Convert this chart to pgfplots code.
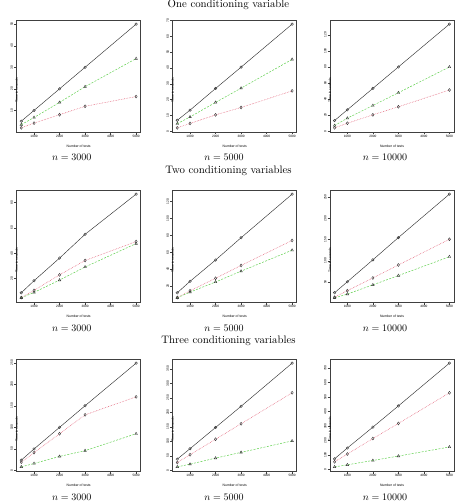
\documentclass[border=0pt]{standalone}
\usepackage{pgfplots}
\pgfplotsset{compat=1.18}
\usepackage{fontspec}
\setsansfont{Liberation Sans}

\definecolor{rred}{HTML}{DF536B}
\definecolor{rgreen}{HTML}{61D04F}

\pgfplotsset{
  panel/.style={
    scale only axis, width=124pt, height=112pt,
    anchor=north west,
    xmin=320, xmax=5180,
    enlarge y limits=0.04,
    xtick={1000,2000,3000,4000,5000},
    axis line style={draw=black!75, line width=0.6pt},
    tick style={draw=black!75, line width=0.4pt},
    major tick length=2.5pt,
    tick align=outside,
    xtick pos=left, ytick pos=left,
    tick label style={font=\sffamily\fontsize{3.2}{3.6}\selectfont, inner sep=1pt},
    /pgf/number format/assume math mode=true,
    /pgf/number format/set thousands separator={},
    yticklabel style={rotate=90, anchor=south},
    xticklabel style={anchor=north},
    xlabel={Number of tests}, ylabel={Time in seconds},
    label style={font=\sffamily\fontsize{3.4}{4}\selectfont},
    x label style={at={(axis description cs:0.5,0)}, anchor=center, yshift=-14.5pt},
    y label style={at={(axis description cs:0,0.5)}, anchor=center, xshift=-14pt},
  },
  sblack/.style={black!80, line width=0.45pt, mark=o, mark size=1.3pt,
    mark options={solid, line width=0.4pt}},
  sgreen/.style={rgreen, line width=0.5pt, dash pattern=on 2pt off 1.4pt,
    mark=triangle, mark size=1.5pt, mark options={solid, black!80, line width=0.4pt}},
  sred/.style={rred, line width=0.5pt, dash pattern=on 0.6pt off 1pt,
    mark=diamond, mark size=1.5pt, mark options={solid, black!80, line width=0.4pt}},
}

\newcommand{\titlefont}{\fontsize{10.8}{12}\selectfont}
\newcommand{\capfont}{\fontsize{10}{12}\selectfont}

\begin{document}
\begin{tikzpicture}
\useasboundingbox (0,0) rectangle (457pt,-502pt);

% ---------- One conditioning variable ----------
\node[anchor=base] at (228.5pt,-8pt) {\titlefont One conditioning variable};

\begin{axis}[panel, at={(16.7pt,-20pt)}, ytick={10,20,30,40,50}]
\addplot[sred] coordinates {(500,1.9)(1000,4.1)(2000,8)(3000,11.9)(5000,16.4)};
\addplot[sgreen] coordinates {(500,3.4)(1000,6.7)(2000,13.7)(3000,21)(5000,34)};
\addplot[sblack] coordinates {(500,5)(1000,10)(2000,20)(3000,30)(5000,50)};
\end{axis}

\begin{axis}[panel, at={(172.7pt,-20pt)}, ytick={0,10,20,30,40,50,60,70}]
\addplot[sred] coordinates {(500,2.1)(1000,4.9)(2000,10.3)(3000,15)(5000,25.5)};
\addplot[sgreen] coordinates {(500,4.7)(1000,9)(2000,18.2)(3000,27.2)(5000,45.4)};
\addplot[sblack] coordinates {(500,6.9)(1000,13.3)(2000,27)(3000,40.5)(5000,67.7)};
\end{axis}

\begin{axis}[panel, at={(330pt,-20pt)}, ytick={0,20,40,60,80,100,120}]
\addplot[sred] coordinates {(500,4.2)(1000,10)(2000,20.4)(3000,30.4)(5000,51.3)};
\addplot[sgreen] coordinates {(500,7.1)(1000,16.2)(2000,32)(3000,47.9)(5000,80)};
\addplot[sblack] coordinates {(500,13.3)(1000,26.7)(2000,53.3)(3000,80)(5000,133.3)};
\end{axis}

\node[anchor=base] at (71.7pt,-161pt) {\capfont $n = 3000$};
\node[anchor=base] at (224pt,-161pt) {\capfont $n = 5000$};
\node[anchor=base] at (385pt,-161pt) {\capfont $n = 10000$};

% ---------- Two conditioning variables ----------
\node[anchor=base] at (228.5pt,-174pt) {\titlefont Two conditioning variables};

\begin{axis}[panel, at={(16.7pt,-190pt)}, ytick={20,40,60,80}]
\addplot[sred] coordinates {(500,5.1)(1000,10.8)(2000,23)(3000,34.3)(5000,49.2)};
\addplot[sgreen] coordinates {(500,4.9)(1000,9.2)(2000,18.9)(3000,29.2)(5000,47.6)};
\addplot[sblack] coordinates {(500,8.9)(1000,18.4)(2000,36.2)(3000,54.9)(5000,86.5)};
\end{axis}

\begin{axis}[panel, at={(172.7pt,-190pt)}, ytick={20,40,60,80,100,120}]
\addplot[sred] coordinates {(500,6.4)(1000,14.4)(2000,29.2)(3000,44.4)(5000,74)};
\addplot[sgreen] coordinates {(500,6)(1000,12.8)(2000,24.8)(3000,37.6)(5000,62.4)};
\addplot[sblack] coordinates {(500,12)(1000,25.6)(2000,50.8)(3000,77.2)(5000,128.8)};
\end{axis}

\begin{axis}[panel, at={(330pt,-190pt)}, ytick={50,100,150,200,250}]
\addplot[sred] coordinates {(500,14.5)(1000,29.8)(2000,59.7)(3000,90.3)(5000,150.8)};
\addplot[sgreen] coordinates {(500,12.9)(1000,21.8)(2000,43.5)(3000,65.3)(5000,109.7)};
\addplot[sblack] coordinates {(500,25)(1000,50.8)(2000,102.4)(3000,154.8)(5000,257)};
\end{axis}

\node[anchor=base] at (71.7pt,-331pt) {\capfont $n = 3000$};
\node[anchor=base] at (224pt,-331pt) {\capfont $n = 5000$};
\node[anchor=base] at (385pt,-331pt) {\capfont $n = 10000$};

% ---------- Three conditioning variables ----------
\node[anchor=base] at (228.5pt,-343pt) {\titlefont Three conditioning variables};

\begin{axis}[panel, at={(16.7pt,-359pt)}, ytick={0,50,100,150,200,250}]
\addplot[sred] coordinates {(500,18.9)(1000,40.9)(2000,84.9)(3000,128.9)(5000,170.6)};
\addplot[sgreen] coordinates {(500,7.9)(1000,15.7)(2000,32.2)(3000,45.6)(5000,84.9)};
\addplot[sblack] coordinates {(500,23.6)(1000,49.5)(2000,99.8)(3000,150)(5000,249)};
\end{axis}

\begin{axis}[panel, at={(172.7pt,-359pt)}, ytick={0,50,100,150,200,250,300,350}]
\addplot[sred] coordinates {(500,26.7)(1000,53.5)(2000,107)(3000,160.5)(5000,267.4)};
\addplot[sgreen] coordinates {(500,11.6)(1000,20.9)(2000,41.9)(3000,61.6)(5000,101.2)};
\addplot[sblack] coordinates {(500,38.4)(1000,74.4)(2000,147.7)(3000,220.9)(5000,369.8)};
\end{axis}

\begin{axis}[panel, at={(330pt,-359pt)}, ytick={0,100,200,300,400,500,600,700}]
\addplot[sred] coordinates {(500,53.5)(1000,107)(2000,214)(3000,318.6)(5000,530)};
\addplot[sgreen] coordinates {(500,18.6)(1000,32.6)(2000,62.8)(3000,93)(5000,155.8)};
\addplot[sblack] coordinates {(500,74.4)(1000,148.8)(2000,293)(3000,439.5)(5000,734.9)};
\end{axis}

\node[anchor=base] at (71.7pt,-500pt) {\capfont $n = 3000$};
\node[anchor=base] at (224pt,-500pt) {\capfont $n = 5000$};
\node[anchor=base] at (385pt,-500pt) {\capfont $n = 10000$};

\end{tikzpicture}
\end{document}
